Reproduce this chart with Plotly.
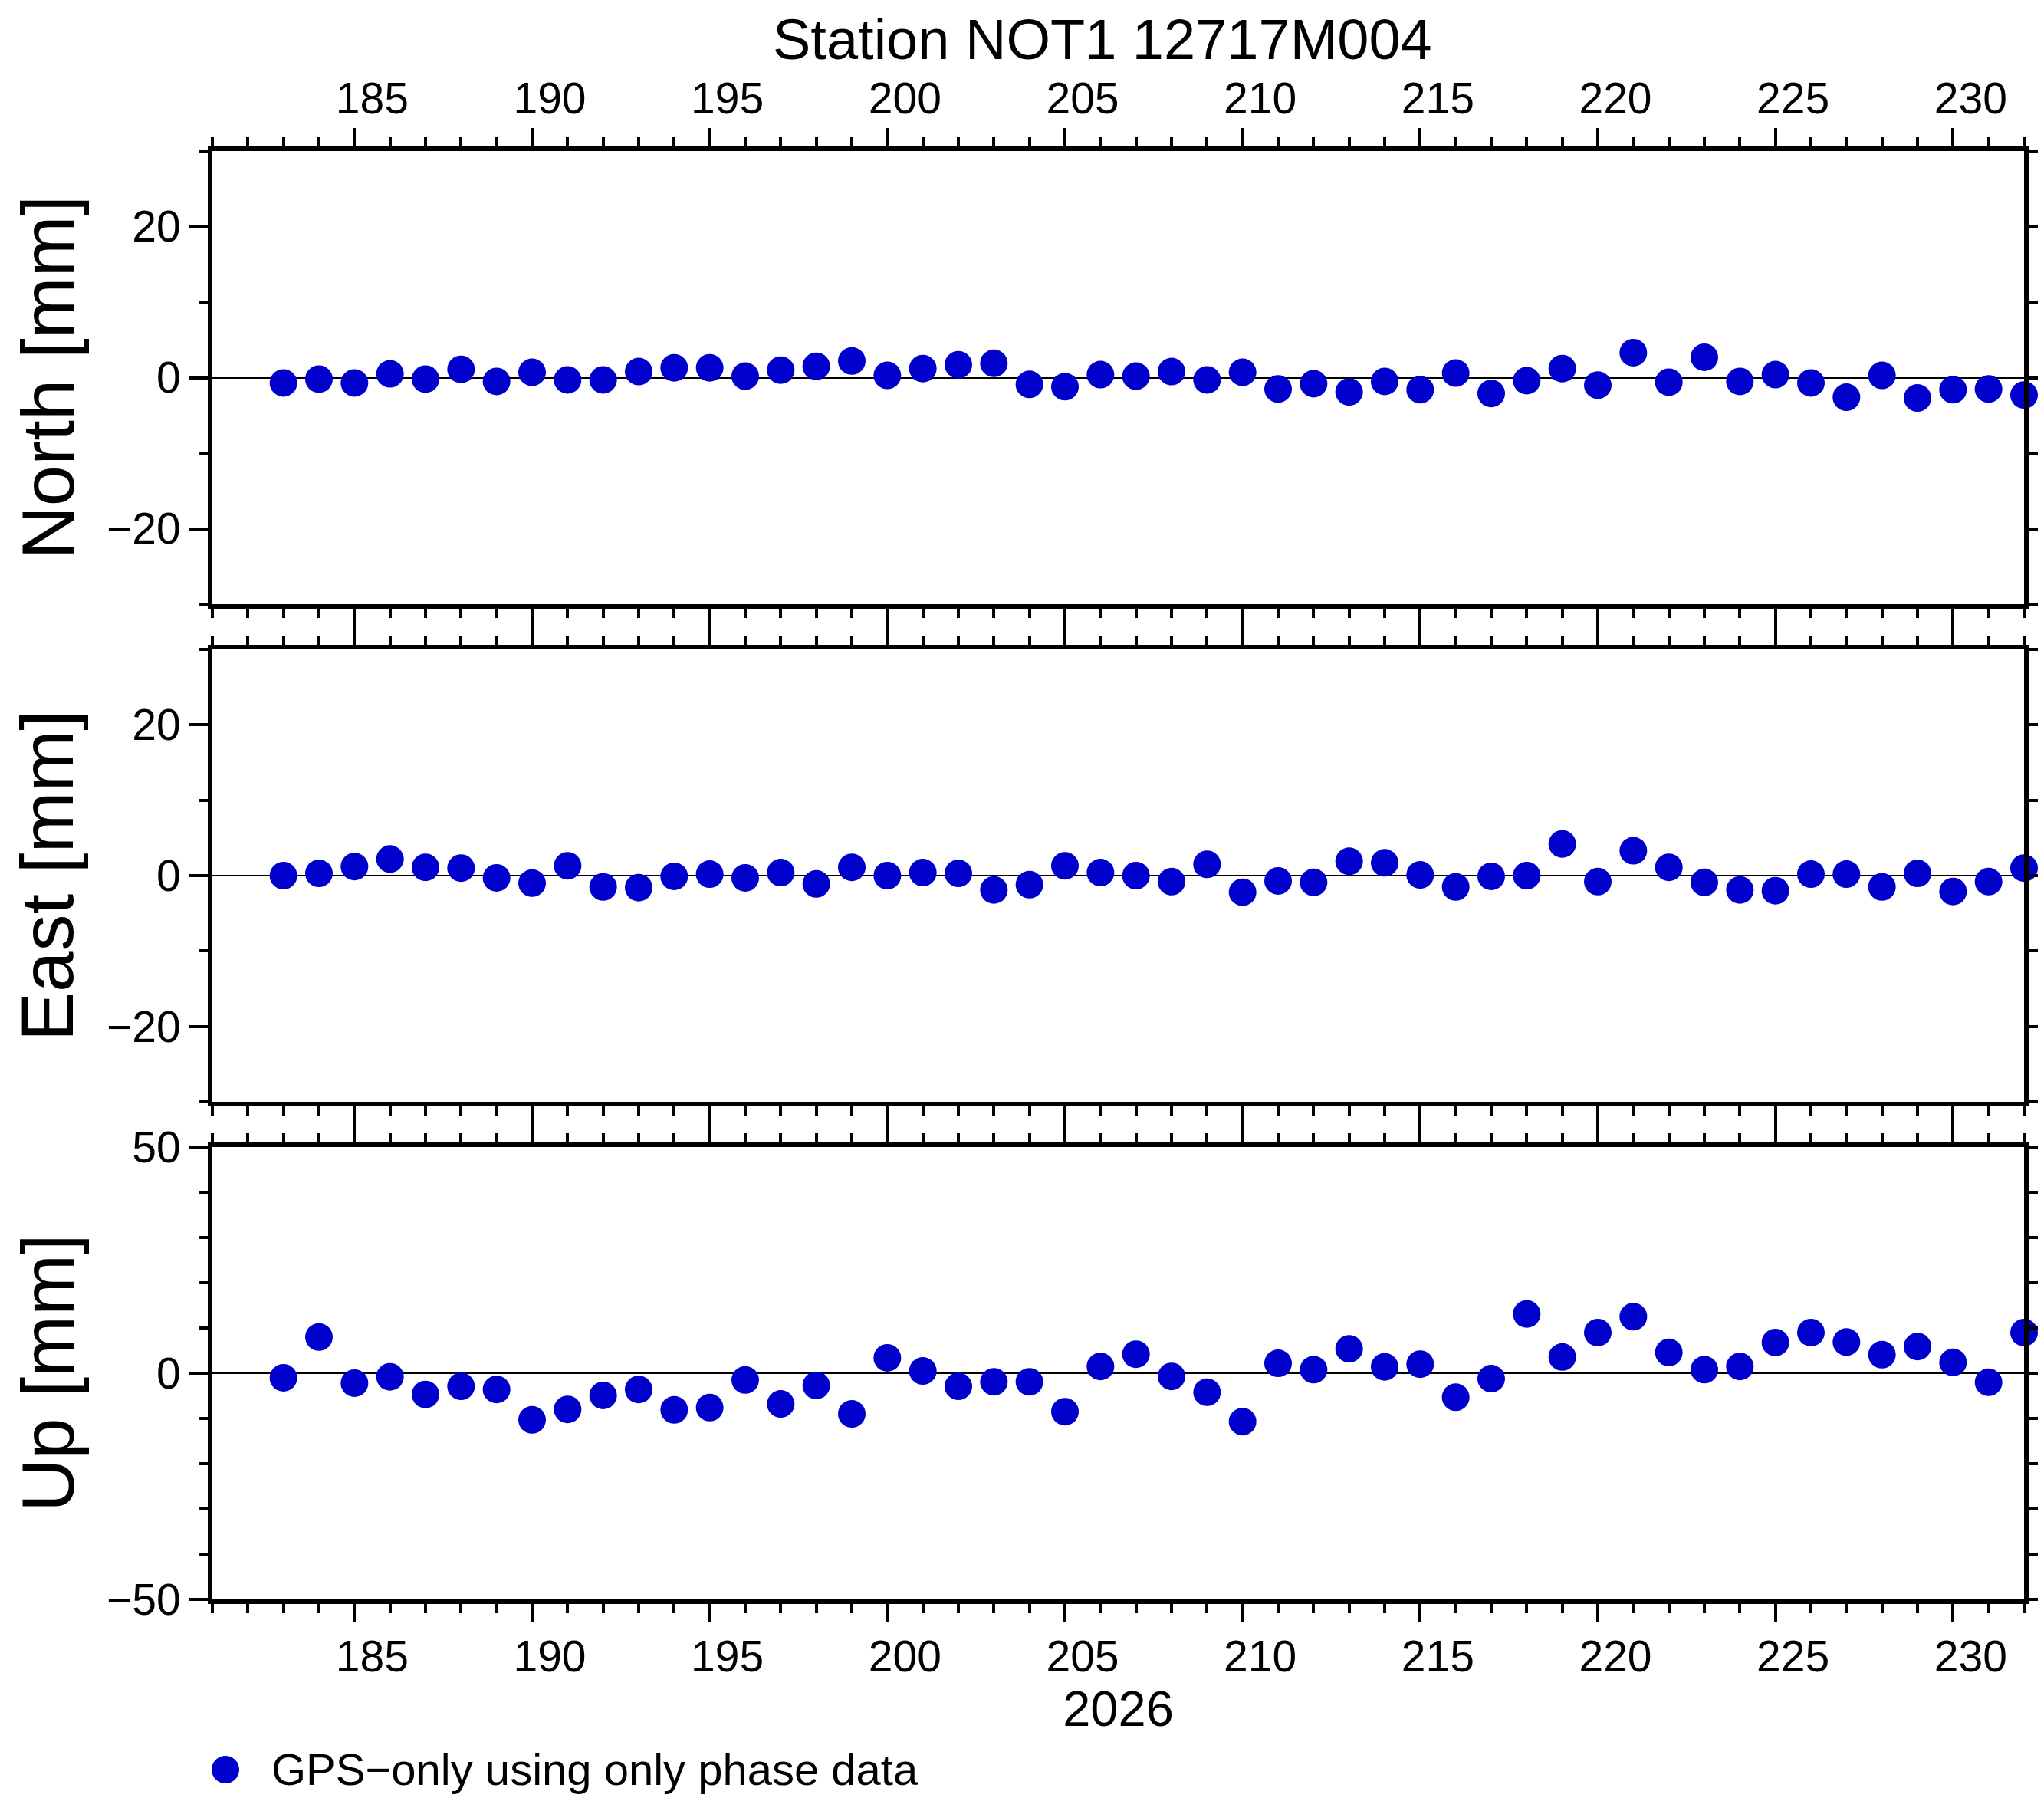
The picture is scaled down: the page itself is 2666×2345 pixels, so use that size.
import plotly.graph_objects as go

# day of year 2026
days = list(range(183, 233))

north = [-0.7, -0.2, -0.7, 0.5, -0.2, 1.1, -0.5, 0.7, -0.3, -0.3, 0.8, 1.3, 1.3, 0.2, 1.0,
         1.5, 2.2, 0.3, 1.2, 1.7, 1.9, -0.9, -1.2, 0.4, 0.2, 0.8, -0.3, 0.7, -1.5, -0.8,
         -1.9, -0.5, -1.6, 0.6, -2.1, -0.4, 1.2, -1.0, 3.3, -0.6, 2.7, -0.5, 0.4, -0.7,
         -2.6, 0.3, -2.7, -1.6, -1.5, -2.3]
east = [0.0, 0.3, 1.2, 2.2, 1.1, 1.0, -0.3, -1.0, 1.3, -1.5, -1.6, -0.1, 0.2, -0.3, 0.4,
        -1.1, 1.1, 0.0, 0.4, 0.3, -1.9, -1.2, 1.3, 0.4, 0.0, -0.8, 1.5, -2.2, -0.7, -0.9,
        1.9, 1.7, 0.1, -1.5, -0.1, 0.0, 4.2, -0.8, 3.3, 1.1, -0.9, -1.9, -2.0, 0.2, 0.2,
        -1.5, 0.3, -2.1, -0.8, 1.0]
up = [-1.0, 8.0, -2.2, -0.8, -4.7, -2.9, -3.6, -10.3, -8.0, -4.9, -3.6, -8.1, -7.6, -1.5,
      -6.8, -2.7, -9.0, 3.4, 0.5, -2.9, -1.9, -1.9, -8.5, 1.5, 4.2, -0.7, -4.2, -10.7, 2.2,
      0.8, 5.4, 1.4, 2.0, -5.3, -1.2, 13.1, 3.6, 9.0, 12.5, 4.6, 0.8, 1.5, 6.8, 9.0, 6.9,
      4.1, 5.9, 2.4, -2.0, 9.0]

station_title = "Station NOT1 12717M004"
year_label = "2026"
series_name = "GPS\u2212only using only phase data"
panel_titles = ["North [mm]", "East [mm]", "Up [mm]"]
y_ranges = [[-30, 30], [-30, 30], [-50, 50]]
y_tickvals = [[-20, 0, 20], [-20, 0, 20], [-50, 0, 50]]
x_range = [181, 232]

W, H = 2666, 2345
OFF = 8  # page body margin
FONT = "Liberation Sans"
BLUE = "#0000cd"


def px_x(p):
    return (p - OFF) / W


def px_y(p):
    return 1 - (p - OFF) / H


x_dom = [px_x(277), px_x(2640)]
y_doms = [[px_y(788), px_y(197)],
          [px_y(1437), px_y(847)],
          [px_y(2086), px_y(1496)]]

fig = go.Figure()
series = [north, east, up]
for i, vals in enumerate(series):
    sfx = "" if i == 0 else str(i + 1)
    fig.add_trace(go.Scatter(x=days, y=vals, mode="markers", name=series_name,
                             marker=dict(size=36, color=BLUE),
                             cliponaxis=False, showlegend=False,
                             xaxis="x" + sfx, yaxis="y" + sfx))

tick_style = dict(ticks="outside", ticklen=24, tickwidth=4, tickcolor="black",
                  showline=True, linewidth=6, linecolor="black", mirror="ticks",
                  showgrid=False, automargin=False,
                  tickfont=dict(family=FONT, size=57, color="black"))

layout = dict(width=W, height=H, autosize=False,
              margin=dict(l=0, r=0, t=0, b=0, pad=0, autoexpand=False),
              paper_bgcolor="white", plot_bgcolor="white", showlegend=False,
              font=dict(family=FONT, color="black"))

for i in range(3):
    sfx = "" if i == 0 else str(i + 1)
    xa = dict(tick_style, domain=x_dom, range=x_range, anchor="y" + sfx,
              tick0=185, dtick=5, zeroline=False, ticklabelshift=23,
              ticklabelstandoff=-4,
              minor=dict(tick0=181, dtick=1, ticks="outside", ticklen=12,
                         tickwidth=4, tickcolor="black"))
    if i == 0:
        xa["side"] = "top"
    elif i == 1:
        xa["showticklabels"] = False
    else:
        xa["side"] = "bottom"
        xa["title"] = dict(text=year_label, font=dict(family=FONT, size=65),
                           standoff=7)
    ya = dict(tick_style, domain=y_doms[i], range=y_ranges[i], anchor="x" + sfx,
              tickmode="array", tickvals=y_tickvals[i],
              ticktext=[str(v).replace("-", "\u2212") for v in y_tickvals[i]],
              zeroline=True, zerolinecolor="black", zerolinewidth=1.5,
              minor=dict(tick0=0, dtick=10, ticks="outside", ticklen=12,
                         tickwidth=4, tickcolor="black"))
    layout["xaxis" + sfx] = xa
    layout["yaxis" + sfx] = ya

fig.update_layout(**layout)

# panel labels on the left
for i, txt in enumerate(panel_titles):
    fig.add_annotation(text=txt, xref="paper", yref="paper", x=54 / W,
                       y=sum(y_doms[i]) / 2, xanchor="center", yanchor="middle",
                       textangle=-90, showarrow=False,
                       font=dict(family=FONT, size=96, color="black"))

# title, kept inside the top edge
fig.add_annotation(text=station_title, xref="paper", yref="paper", x=px_x(1438),
                   y=1, xanchor="center", yanchor="top", showarrow=False,
                   font=dict(family=FONT, size=74, color="black"))

# legend entry under the plots
fig.add_shape(type="circle", xref="paper", yref="paper",
              xsizemode="pixel", ysizemode="pixel",
              xanchor=px_x(294), yanchor=px_y(2308),
              x0=-18, x1=18, y0=-18, y1=18,
              fillcolor=BLUE, line=dict(width=0))
fig.add_annotation(text=series_name, xref="paper", yref="paper", x=px_x(352),
                   y=px_y(2307), xanchor="left", yanchor="middle", showarrow=False,
                   font=dict(family=FONT, size=58, color="black"))

fig.write_html("out.html")
